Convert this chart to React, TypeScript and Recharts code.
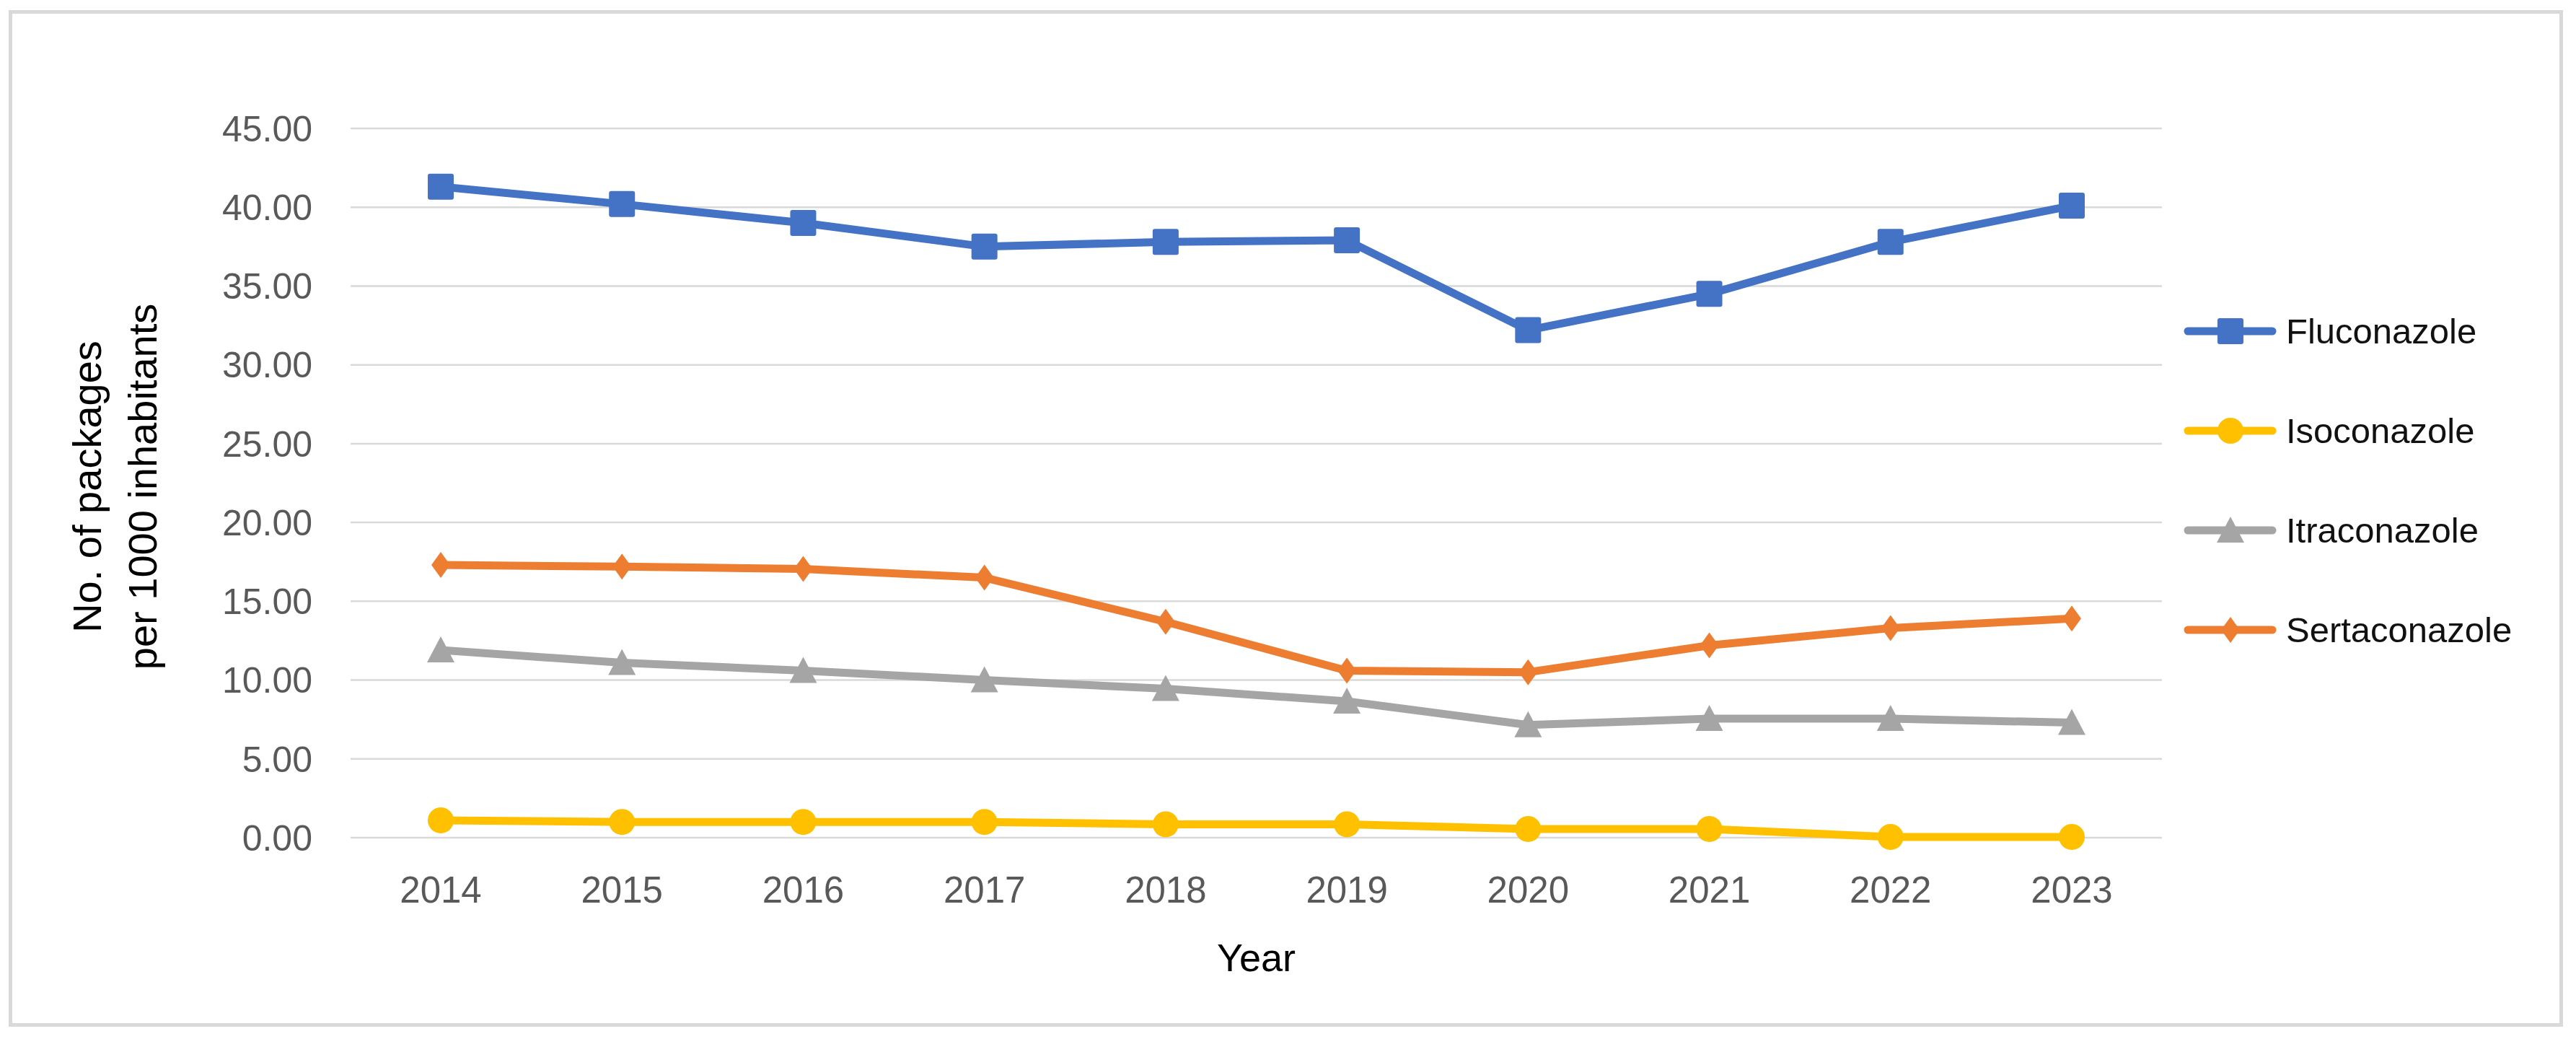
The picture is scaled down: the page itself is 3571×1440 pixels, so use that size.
import React from "react";
import { LineChart, Line, XAxis, YAxis, CartesianGrid, Legend } from "recharts";

const years = ["2014", "2015", "2016", "2017", "2018", "2019", "2020", "2021", "2022", "2023"];
const fluconazole = [41.3, 40.2, 39.0, 37.5, 37.8, 37.9, 32.2, 34.5, 37.8, 40.1];
const isoconazole = [1.1, 1.0, 1.0, 1.0, 0.85, 0.85, 0.55, 0.55, 0.05, 0.05];
const itraconazole = [11.9, 11.1, 10.6, 10.0, 9.45, 8.65, 7.15, 7.55, 7.55, 7.3];
const sertaconazole = [17.3, 17.2, 17.05, 16.5, 13.7, 10.6, 10.5, 12.2, 13.3, 13.9];
const yTicks = [0, 5, 10, 15, 20, 25, 30, 35, 40, 45];

const series = [
  { key: "Fluconazole", color: "#4472C4", shape: "square", values: fluconazole },
  { key: "Isoconazole", color: "#FFC000", shape: "circle", values: isoconazole },
  { key: "Itraconazole", color: "#A5A5A5", shape: "triangle", values: itraconazole },
  { key: "Sertaconazole", color: "#ED7D31", shape: "diamond", values: sertaconazole },
];

const data = years.map((year, i) => {
  const row: Record<string, string | number> = { year };
  series.forEach((s) => {
    row[s.key] = s.values[i];
  });
  return row;
});

const FONT = "'Liberation Sans', Arial, sans-serif";

function Marker({ shape, cx, cy, color }: { shape: string; cx: number; cy: number; color: string }) {
  if (cx == null || cy == null) return null;
  if (shape === "square") {
    return <rect x={cx - 18} y={cy - 18} width={36} height={36} rx={3} fill={color} />;
  }
  if (shape === "circle") {
    return <circle cx={cx} cy={cy} r={18} fill={color} />;
  }
  if (shape === "triangle") {
    return <polygon points={`${cx},${cy - 19} ${cx - 19},${cy + 17} ${cx + 19},${cy + 17}`} fill={color} />;
  }
  return <polygon points={`${cx},${cy - 18} ${cx + 13},${cy} ${cx},${cy + 18} ${cx - 13},${cy}`} fill={color} />;
}

function renderLegend(props: any) {
  const { payload } = props;
  return (
    <div style={{ width: 500, fontFamily: FONT }}>
      {payload.map((entry: any) => {
        const s = series.find((x) => x.key === entry.dataKey) || series[0];
        return (
          <div key={entry.value} style={{ height: 138, display: "flex", alignItems: "center" }}>
            <svg width={135} height={40}>
              <line x1={9} y1={20} x2={126} y2={20} stroke={entry.color} strokeWidth={11} strokeLinecap="round" />
              <Marker shape={s.shape} cx={68} cy={20} color={entry.color} />
            </svg>
            <span style={{ marginLeft: 10, fontSize: 49, color: "#111", lineHeight: 1 }}>{entry.value}</span>
          </div>
        );
      })}
    </div>
  );
}

function YTitle(props: any) {
  const { viewBox } = props;
  const cy = viewBox.y + viewBox.height / 2 + 5;
  return (
    <text
      transform={`translate(0, ${cy}) rotate(-90)`}
      textAnchor="middle"
      fontSize={56}
      fill="#000"
      fontFamily={FONT}
    >
      <tspan x={0} y={140}>No. of packages</tspan>
      <tspan x={0} y={217}>per 1000 inhabitants</tspan>
    </text>
  );
}

export default function App() {
  return (
    <div style={{ position: "absolute", left: 0, top: 0, width: 3571, height: 1440, background: "#fff", fontFamily: FONT }}>
      <div
        style={{
          position: "absolute",
          left: 12,
          top: 14,
          width: 3553 - 12,
          height: 1423 - 14,
          border: "5px solid #d9d9d9",
          boxSizing: "border-box",
        }}
      />
      <LineChart width={3571} height={1440} data={data} margin={{ top: 178, right: 74, bottom: 0, left: 0 }}>
        <CartesianGrid vertical={false} stroke="#d9d9d9" strokeWidth={2.5} />
        <XAxis
          dataKey="year"
          axisLine={false}
          tickLine={false}
          tickSize={0}
          tickMargin={54}
          height={279}
          padding={{ left: 125, right: 125 }}
          tick={{ fontSize: 51, fill: "#595959" }}
          label={{ value: "Year", position: "insideTop", offset: 147, fontSize: 54, fill: "#000" }}
        />
        <YAxis
          width={486}
          domain={[0, 45]}
          ticks={yTicks}
          axisLine={false}
          tickLine={false}
          tickSize={0}
          tickMargin={53}
          tickFormatter={(v: number) => v.toFixed(2)}
          tick={{ fontSize: 50, fill: "#595959" }}
          label={<YTitle />}
        />
        <Legend
          layout="vertical"
          align="right"
          verticalAlign="middle"
          width={500}
          content={renderLegend}
          wrapperStyle={{ left: 3024, top: 390, right: "auto" }}
        />
        {series.map((s) => (
          <Line
            key={s.key}
            type="linear"
            dataKey={s.key}
            name={s.key}
            stroke={s.color}
            strokeWidth={11}
            strokeLinejoin="round"
            strokeLinecap="round"
            dot={(p: any) => <Marker key={`${s.key}-${p.index}`} shape={s.shape} cx={p.cx} cy={p.cy} color={s.color} />}
            activeDot={false}
            isAnimationActive={false}
          />
        ))}
      </LineChart>
    </div>
  );
}
